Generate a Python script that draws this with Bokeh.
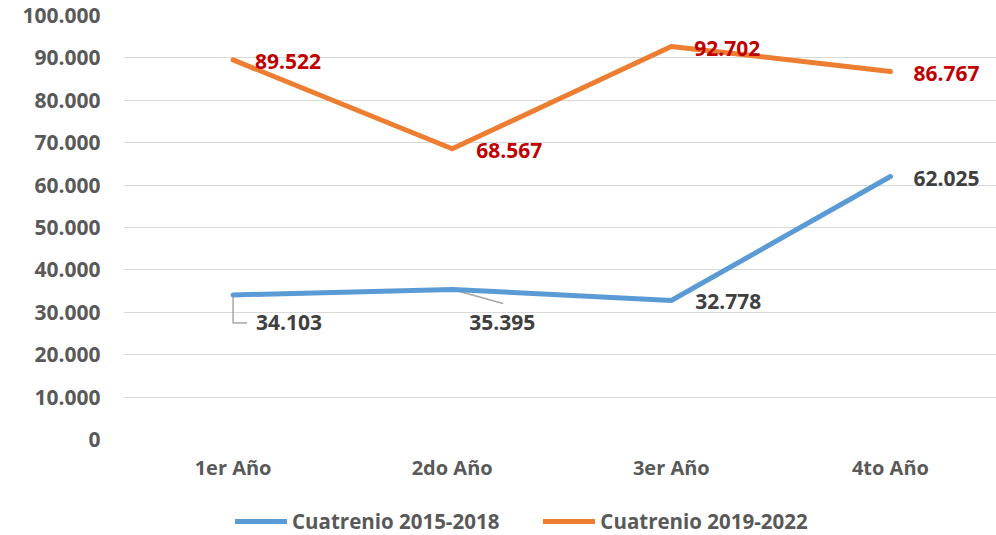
from bokeh.plotting import figure
from bokeh.layouts import column
from bokeh.models import Range1d, Legend, LegendItem, FixedTicker
from bokeh.core.properties import value
from bokeh.embed import file_html
from bokeh.resources import INLINE

# ---------------- data ----------------
categories = ["1er Año", "2do Año", "3er Año", "4to Año"]
serie_2015_2018 = [34103, 35395, 32778, 62025]
serie_2019_2022 = [89522, 68567, 92702, 86767]
y_ticks = [0, 10000, 20000, 30000, 40000, 50000, 60000, 70000, 80000, 90000, 100000]
series_names = ["Cuatrenio 2015-2018", "Cuatrenio 2019-2022"]


def fmt(v):
    return f"{v:,}".replace(",", ".")


# ---------------- layout / style ----------------
W = 996
H_MAIN, H_LEG = 500, 35
BORDER_L, BORDER_R, BORDER_T, BORDER_B = 123, 0, 15, 61
X_START, X_END = -0.5, 3.484
Y_START, Y_END = 0, 100000
FRAME_W = W - BORDER_L - BORDER_R
FRAME_H = H_MAIN - BORDER_T - BORDER_B
PX_X = FRAME_W / (X_END - X_START)
PX_Y = FRAME_H / (Y_END - Y_START)

FONT = "Open Sans"
GRAY_TXT = "#595959"
BLUE = "#5B9BD5"
ORANGE = "#ED7D31"
RED_LBL = "#C00000"
DARK_LBL = "#404040"
LEADER = "#A6A6A6"
LINE_W = 5

# label offsets in pixels (dx right, dy down)
off_2015 = [(23, 28), (17, 33), (24, 1), (23, 2)]
off_2019 = [(22, 2), (24, 2), (23, 2), (23, 2)]

xs = list(range(len(categories)))

p = figure(width=W, height=H_MAIN, output_backend="svg", toolbar_location=None,
           x_range=Range1d(X_START, X_END), y_range=Range1d(Y_START, Y_END),
           min_border_left=BORDER_L, min_border_right=BORDER_R,
           min_border_top=BORDER_T, min_border_bottom=BORDER_B)
p.outline_line_color = None
p.background_fill_color = "white"
p.border_fill_color = "white"

# axes
p.xaxis.ticker = FixedTicker(ticks=xs)
p.xaxis.major_label_overrides = {i: c for i, c in zip(xs, categories)}
p.yaxis.ticker = FixedTicker(ticks=y_ticks)
p.yaxis.major_label_overrides = {t: fmt(t) for t in y_ticks}
for ax in (p.xaxis[0], p.yaxis[0]):
    ax.axis_line_color = None
    ax.major_tick_line_color = None
    ax.minor_tick_line_color = None
    ax.major_tick_out = 0
    ax.major_tick_in = 0
    ax.minor_tick_out = 0
    ax.minor_tick_in = 0
    ax.major_label_text_font = FONT
    ax.major_label_text_font_style = "bold"
    ax.major_label_text_color = GRAY_TXT
p.xaxis.major_label_text_font_size = "20px"
p.yaxis.major_label_text_font_size = "21px"
p.xaxis.major_label_standoff = 14
p.yaxis.major_label_standoff = 23

p.xgrid.grid_line_color = None
p.ygrid.grid_line_color = "#D9D9D9"
p.ygrid.grid_line_width = 1.2

# leader lines for two blue labels
lx = []
ly = []
x0, y0 = xs[0], serie_2015_2018[0]
dx, dy = off_2015[0]
lx.append([x0, x0, x0 + (dx - 9) / PX_X])
ly.append([y0, y0 - dy / PX_Y, y0 - dy / PX_Y])
x1, y1 = xs[1], serie_2015_2018[1]
lx.append([x1, x1 + 51 / PX_X])
ly.append([y1, y1 - 14 / PX_Y])
p.multi_line(lx, ly, line_color=LEADER, line_width=1.5)

p.line(xs, serie_2015_2018, line_color=BLUE, line_width=LINE_W, line_cap="round", line_join="round")
p.line(xs, serie_2019_2022, line_color=ORANGE, line_width=LINE_W, line_cap="round", line_join="round")

# data labels
p.text(xs, serie_2015_2018, text=[fmt(v) for v in serie_2015_2018],
       x_offset=[o[0] for o in off_2015], y_offset=[o[1] for o in off_2015],
       text_font=value(FONT), text_font_style="bold", text_font_size="21px",
       text_color=DARK_LBL, text_align="left", text_baseline="middle")
p.text(xs, serie_2019_2022, text=[fmt(v) for v in serie_2019_2022],
       x_offset=[o[0] for o in off_2019], y_offset=[o[1] for o in off_2019],
       text_font=value(FONT), text_font_style="bold", text_font_size="21px",
       text_color=RED_LBL, text_align="left", text_baseline="middle")

# ---------------- legend strip ----------------
pl = figure(width=W, height=H_LEG, output_backend="svg", toolbar_location=None,
            x_range=Range1d(0, 1), y_range=Range1d(0, 1),
            x_axis_location=None, y_axis_location=None,
            min_border=0, min_border_left=0, min_border_right=0,
            min_border_top=0, min_border_bottom=0)
pl.outline_line_color = None
pl.xgrid.grid_line_color = None
pl.ygrid.grid_line_color = None
nan = float("nan")
lr1 = pl.line([nan], [nan], line_color=BLUE, line_width=LINE_W, line_cap="round")
lr2 = pl.line([nan], [nan], line_color=ORANGE, line_width=LINE_W, line_cap="round")

legend = Legend(items=[LegendItem(label=series_names[0], renderers=[lr1]),
                       LegendItem(label=series_names[1], renderers=[lr2])],
                location=(112, 0), orientation="horizontal")
legend.label_text_font = FONT
legend.label_text_font_style = "bold"
legend.label_text_font_size = "20.5px"
legend.label_text_color = GRAY_TXT
legend.glyph_width = 52
legend.glyph_height = 20
legend.label_standoff = 5
legend.spacing = 44
legend.padding = 0
legend.margin = 0
legend.border_line_color = None
legend.background_fill_alpha = 0
pl.add_layout(legend, "center")

layout = column(p, pl, spacing=0)
open("out.html", "w").write(file_html(layout, INLINE))
